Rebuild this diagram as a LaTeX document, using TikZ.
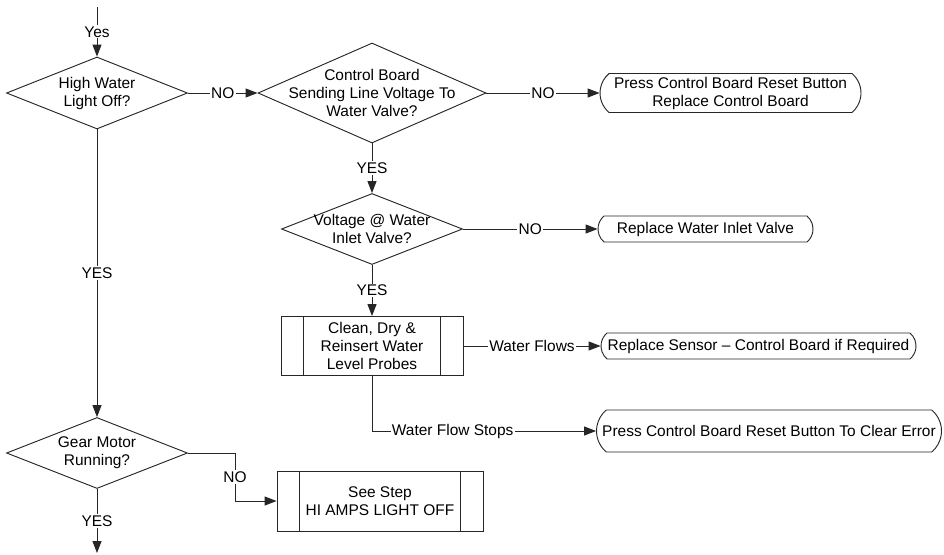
\documentclass[tikz,border=0pt]{standalone}
\usepackage{fontspec}
\setmainfont{Liberation Sans}
\usetikzlibrary{arrows.meta, shapes.geometric, shapes.misc}

\begin{document}
\begin{tikzpicture}[
    x=0.75pt, y=-0.75pt, line width=0.7pt,
    every node/.style={font=\fontsize{11.6}{13.5}\selectfont},
    decision/.style 2 args={diamond, draw=black!85, minimum width=#1, minimum height=#2, inner sep=0pt},
    terminal/.style 2 args={rounded rectangle, rounded rectangle arc length=100, draw=black!85, align=center,
        minimum width=#1, minimum height=#2, inner xsep=0pt, inner ysep=1pt},
    process/.style 2 args={rectangle, draw=black!85, align=center, minimum width=#1, minimum height=#2, inner sep=0pt},
    txt/.style={align=center, inner sep=0pt},
    flow/.style={draw=black!85, -{Triangle[length=9pt, width=6.8pt]}},
    lbl/.style={fill=white, inner sep=1pt}
]
    \useasboundingbox (0,0) rectangle (944,554);
    % Decisions
    \node[decision={135.75pt}{54pt}] (light) at (97,93) {};
    \node[txt] (lighttxt) at (light) {High Water\\Light Off?};
    \node[decision={171pt}{75pt}] (board) at (372,93) {};
    \node[txt] (boardtxt) at (board) {Control Board\\Sending Line Voltage To\\Water Valve?};
    \node[decision={135.75pt}{53.25pt}] (inlet) at (372,229) {};
    \node[txt] (inlettxt) at (inlet) {Voltage @ Water\\Inlet Valve?};
    \node[decision={135.75pt}{53.25pt}] (gear) at (97,453) {};
    \node[txt] (geartxt) at (gear) {Gear Motor\\Running?};
    % Processes
    \node[process={136.5pt}{44.25pt}] (probes) at (372,346) {Clean, Dry \&\\Reinsert Water\\Level Probes};
    \node[process={154.5pt}{45pt}] (seestep) at (380,501) {See Step\\HI AMPS LIGHT OFF};
    \foreach \b in {probes, seestep} {
        \draw[black!85] ([xshift=17pt]\b.north west) -- ([xshift=17pt]\b.south west);
        \draw[black!85] ([xshift=-17pt]\b.north east) -- ([xshift=-17pt]\b.south east);
    }
    % Terminals
    \node[terminal={195.75pt}{29.25pt}] (reset) at (730.5,93) {Press Control Board Reset Button\\Replace Control Board};
    \node[terminal={161.25pt}{19.5pt}] (valve) at (705.5,229) {Replace Water Inlet Valve};
    \node[terminal={236.25pt}{19.5pt}] (sensor) at (758.5,346) {Replace Sensor – Control Board if Required};
    \node[terminal={258.75pt}{31.5pt}] (clear) at (769,431) {Press Control Board Reset Button To Clear Error};
    % Connections
    \coordinate (in) at (97,7);
    \coordinate (out) at (97,553);
    \draw[flow] (in) -- node[lbl] {Yes} (light);
    \draw[flow] (light) -- node[lbl] {NO} (board);
    \draw[flow] (board) -- node[lbl] {NO} (reset);
    \draw[flow] (board) -- node[lbl] {YES} (inlet);
    \draw[flow] (inlet) -- node[lbl] {NO} (valve);
    \draw[flow] (inlet) -- node[lbl] {YES} (probes);
    \draw[flow] (probes) -- node[lbl] {Water Flows} (sensor);
    \draw[flow] (probes) |- node[lbl, pos=0.68] {Water Flow Stops} (clear);
    \draw[flow] (light) -- node[lbl] {YES} (gear);
    \draw[flow] (gear.east) -- ++(47,0) |- node[lbl, pos=0.25] {NO} (seestep);
    \draw[flow] (gear) -- node[lbl] {YES} (out);
\end{tikzpicture}
\end{document}
